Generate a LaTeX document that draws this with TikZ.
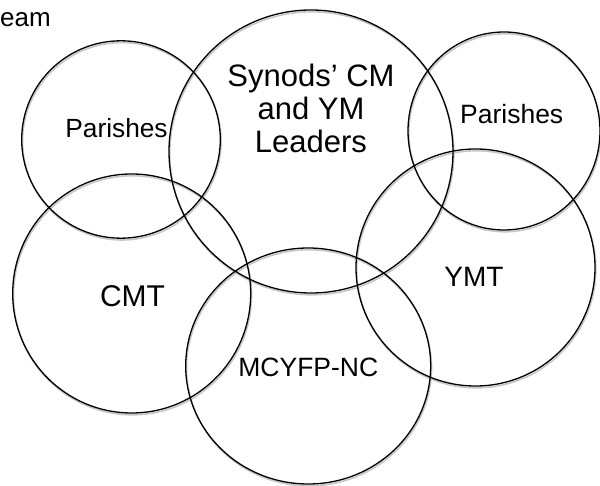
\documentclass[tikz,border=0pt]{standalone}
\usepackage{fontspec}
\setmainfont{Liberation Sans}
\begin{document}
\begin{tikzpicture}[x=1pt,y=-1pt,
  ring/.style={draw=black,line width=1.3pt},
  ringshadow/.style={draw=black!22,line width=1.6pt},
  lbl/.style={inner sep=0pt,anchor=base,align=center}]
\useasboundingbox (0,0) rectangle (600,486);
% shadows
\foreach \cx/\cy/\rx/\ry in {121/139.5/99.3/98.7, 311/151.5/142/141.5, 504/131/96/99, 131.7/293.5/119/119.5, 475.5/267.5/119.5/118.5, 308.2/366/122.5/118}
  \draw[ringshadow] (\cx+0.8,\cy+1.8) ellipse[x radius=\rx, y radius=\ry];
% circles
\draw[ring] (121,139.5) ellipse[x radius=99.3, y radius=98.7];
\draw[ring] (311,151.5) ellipse[x radius=142, y radius=141.5];
\draw[ring] (504,131) ellipse[x radius=96, y radius=99];
\draw[ring] (131.7,293.5) ellipse[x radius=119, y radius=119.5];
\draw[ring] (475.5,267.5) ellipse[x radius=119.5, y radius=118.5];
\draw[ring] (308.2,366) ellipse[x radius=122.5, y radius=118];
% labels
\node[lbl,anchor=base west,font=\fontsize{26}{30}\selectfont] (team) at (0,26.7) {eam};
\node[lbl,font=\fontsize{26.3}{29}\selectfont] (par1) at (116.5,138) {Parishes};
\node[lbl,font=\fontsize{26.5}{29}\selectfont] (par2) at (511.7,124) {Parishes};
\node[lbl,font=\fontsize{31}{33}\selectfont] (syn) at (311,153) {Synods’ CM\\and YM\\Leaders};
\node[lbl,font=\fontsize{30}{32}\selectfont] (cmt) at (132.5,307) {CMT};
\node[lbl,font=\fontsize{28}{32}\selectfont] (ymt) at (474,286.3) {YMT};
\node[lbl,font=\fontsize{26.5}{30}\selectfont] (mcy) at (308.3,376.3) {MCYFP-NC};
\end{tikzpicture}
\end{document}
